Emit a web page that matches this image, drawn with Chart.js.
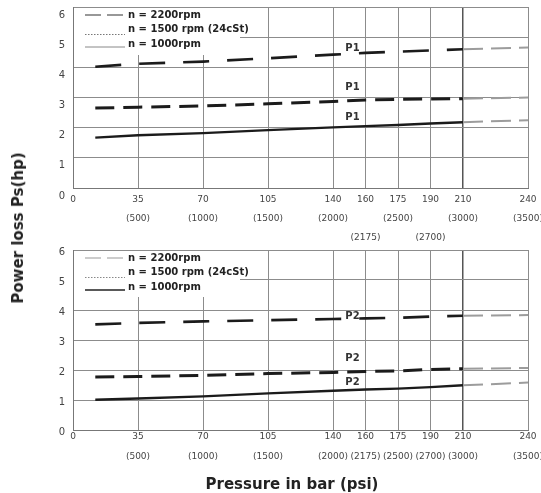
<!DOCTYPE html>
<html lang="en">
<head>
<meta charset="UTF-8">
<title>Power loss Ps</title>
<script src="https://cdn.jsdelivr.net/npm/chart.js"></script>
<style>
  body { margin: 0; background: #fff; }
  .sheet { position: relative; width: 541px; height: 493px; overflow: hidden; font-family: "DejaVu Sans", sans-serif; }
  .sheet canvas { position: absolute; left: 0; }
  #chartP1 { top: 0; }
  #chartP2 { top: 243px; }
  .ytitle, .xtitle { position: absolute; font-weight: bold; font-size: 15px; color: #222; white-space: nowrap; }
  .ytitle { left: 18px; top: 228px; transform: translate(-50%, -50%) rotate(-90deg); }
  .xtitle { left: 292px; top: 484px; transform: translate(-50%, -50%); }
</style>
</head>
<body>
<div class="sheet">
  <canvas id="chartP1" width="541" height="250"></canvas>
  <canvas id="chartP2" width="541" height="250"></canvas>
  <div class="ytitle">Power loss Ps(hp)</div>
  <div class="xtitle">Pressure in bar (psi)</div>
</div>
<script>
// axis labels
const barTicks = [0, 35, 70, 105, 140, 160, 175, 190, 210, 240];
const psiTicks = ['', '(500)', '(1000)', '(1500)', '(2000)', '(2175)', '(2500)', '(2700)', '(3000)', '(3500)'];
const powerTicks = [0, 1, 2, 3, 4, 5, 6];
const seriesNames = ['n = 2200rpm', 'n = 1500 rpm (24cSt)', 'n = 1000rpm'];

// pressure (bar) where the curves were read
const pressure = [12, 35, 70, 105, 140, 160, 175, 190, 210, 240];

// P1 power loss (hp)
const p1n2200 = [4.02, 4.12, 4.19, 4.30, 4.42, 4.48, 4.52, 4.56, 4.60, 4.66];
const p1n1500 = [2.65, 2.68, 2.72, 2.79, 2.87, 2.92, 2.94, 2.95, 2.96, 3.00];
const p1n1000 = [1.67, 1.75, 1.82, 1.92, 2.01, 2.05, 2.09, 2.14, 2.18, 2.25];

// P2 power loss (hp)
const p2n2200 = [3.52, 3.57, 3.62, 3.66, 3.70, 3.72, 3.74, 3.78, 3.81, 3.83];
const p2n1500 = [1.77, 1.78, 1.82, 1.88, 1.92, 1.95, 1.97, 2.02, 2.04, 2.07];
const p2n1000 = [1.01, 1.05, 1.12, 1.22, 1.31, 1.35, 1.38, 1.43, 1.49, 1.58];

// where the P1 / P2 tags sit (bar, hp)
const tagPressure = 152;
const p1TagAt = [4.64, 3.35, 2.35];
const p2TagAt = [3.80, 2.37, 1.57];

// the printed sheet spaces its grid unevenly: 140..210 is drawn at double scale
const gridSlots = [0, 2, 4, 6, 8, 9, 10, 11, 12, 14];
const lastSlot = gridSlots[gridSlots.length - 1];

function slotOf(v) {
  for (let i = 1; i < barTicks.length; i++) {
    if (v <= barTicks[i] || i === barTicks.length - 1) {
      const t = (v - barTicks[i - 1]) / (barTicks[i] - barTicks[i - 1]);
      return gridSlots[i - 1] + t * (gridSlots[i] - gridSlots[i - 1]);
    }
  }
}
function barOf(s) {
  for (let i = 1; i < gridSlots.length; i++) {
    if (s <= gridSlots[i] || i === gridSlots.length - 1) {
      const t = (s - gridSlots[i - 1]) / (gridSlots[i] - gridSlots[i - 1]);
      return barTicks[i - 1] + t * (barTicks[i] - barTicks[i - 1]);
    }
  }
}

const BaseLinear = Chart.LinearScale || Chart.registry.getScale('linear');
class SlotScale extends BaseLinear {
  getPixelForValue(value) {
    if (value === null || value === undefined) return NaN;
    return this.getPixelForDecimal(slotOf(value) / lastSlot);
  }
  getValueForPixel(pixel) {
    return barOf(this.getDecimalForPixel(pixel) * lastSlot);
  }
}
SlotScale.id = 'slot';
SlotScale.defaults = {};
Chart.register(SlotScale);

// line looks
const lineStyles = [
  { width: 2.6, dash: [26, 18] },
  { width: 3, dash: [19, 9] },
  { width: 2.4, dash: [] }
];
const extendFrom = 210; // grey continuation past 210 bar

// key box + P tags drawn into the plot
const sheetNotes = {
  id: 'sheetNotes',
  afterDatasetsDraw(chart, args, opts) {
    const { ctx, chartArea: a, scales } = chart;
    ctx.save();
    ctx.fillStyle = '#fff';
    ctx.fillRect(a.left + 1, a.top + 1, 166, opts.boxHeight);

    const textY = [8, 22.5, 37];
    const sampleY = [8, 27.5, 40];
    ctx.font = 'bold 10px "DejaVu Sans"';
    ctx.textBaseline = 'middle';
    ctx.textAlign = 'left';
    chart.data.datasets.forEach((ds, i) => {
      const k = opts.keys[i];
      ctx.strokeStyle = k.color;
      ctx.lineWidth = k.width;
      ctx.setLineDash(k.dash);
      ctx.beginPath();
      ctx.moveTo(a.left + 12, a.top + sampleY[i]);
      ctx.lineTo(a.left + 52, a.top + sampleY[i]);
      ctx.stroke();
      ctx.setLineDash([]);
      ctx.fillStyle = '#222';
      ctx.fillText(ds.label, a.left + 55, a.top + textY[i]);
    });

    ctx.textAlign = 'center';
    ctx.fillStyle = '#333';
    opts.tagAt.forEach(v => {
      ctx.fillText(opts.tag, scales.x.getPixelForValue(tagPressure), scales.y.getPixelForValue(v));
    });
    ctx.restore();
  }
};

function buildChart(id, cfg) {
  return new Chart(document.getElementById(id), {
    type: 'line',
    data: {
      datasets: cfg.series.map((vals, i) => ({
        label: seriesNames[i],
        data: pressure.map((p, j) => ({ x: p, y: vals[j] })),
        borderColor: '#1b1b1b',
        borderWidth: lineStyles[i].width,
        borderDash: lineStyles[i].dash,
        pointRadius: 0,
        tension: 0,
        fill: false,
        segment: {
          borderColor: c => c.p0.parsed.x >= extendFrom ? '#9c9c9c' : undefined,
          borderDash: c => c.p0.parsed.x >= extendFrom ? [20, 8] : undefined,
          borderWidth: c => c.p0.parsed.x >= extendFrom ? 2 : undefined
        }
      }))
    },
    options: {
      responsive: false,
      devicePixelRatio: 1,
      animation: false,
      events: [],
      layout: { padding: { top: 7, right: 13, bottom: 0, left: 0 } },
      scales: {
        x: {
          type: 'slot',
          min: 0,
          max: 240,
          afterBuildTicks: s => { s.ticks = barTicks.map(v => ({ value: v })); },
          afterFit: s => { s.height = cfg.axisHeight; s.paddingLeft = 0; s.paddingRight = 0; },
          grid: {
            drawTicks: false,
            color: c => (c.tick && c.tick.value === 210) ? '#555' : '#8c8c8c',
            lineWidth: c => (c.tick && c.tick.value === 210) ? 1.5 : 1
          },
          border: { color: '#777' },
          ticks: {
            autoSkip: false,
            maxRotation: 0,
            minRotation: 0,
            padding: cfg.tickPad,
            color: '#444',
            font: { family: 'DejaVu Sans', size: 9, lineHeight: cfg.tickLine },
            callback: (v, i) => cfg.labelFor(i)
          }
        },
        y: {
          min: 0,
          max: 6,
          afterBuildTicks: s => { s.ticks = powerTicks.map(v => ({ value: v })); },
          afterFit: s => { s.width = 73; s.paddingTop = 0; s.paddingBottom = 0; },
          grid: { drawTicks: false, color: '#8c8c8c' },
          border: { color: '#777' },
          ticks: {
            padding: 8,
            labelOffset: cfg.yLabelOffset,
            color: '#444',
            font: { family: 'DejaVu Sans', size: 10 }
          }
        }
      },
      plugins: {
        legend: { display: false },
        tooltip: { enabled: false },
        sheetNotes: { keys: cfg.keys, boxHeight: cfg.boxHeight, tag: cfg.tag, tagAt: cfg.tagAt }
      }
    },
    plugins: [sheetNotes]
  });
}

const staggered = [160, 190]; // psi pushed to a third row on the upper sheet

buildChart('chartP1', {
  series: [p1n2200, p1n1500, p1n1000],
  axisHeight: 62,
  tickPad: 2.5,
  tickLine: '19px',
  yLabelOffset: 8,
  boxHeight: 47,
  tag: 'P1',
  tagAt: p1TagAt,
  labelFor: i => staggered.includes(barTicks[i])
    ? [String(barTicks[i]), '', psiTicks[i]]
    : [String(barTicks[i]), psiTicks[i]],
  keys: [
    { color: '#333', width: 1.2, dash: [16, 6] },
    { color: '#777', width: 1, dash: [1.5, 1.5] },
    { color: '#888', width: 1, dash: [] }
  ]
});

buildChart('chartP2', {
  series: [p2n2200, p2n1500, p2n1000],
  axisHeight: 63,
  tickPad: -3,
  tickLine: '20px',
  yLabelOffset: 2,
  boxHeight: 46,
  tag: 'P2',
  tagAt: p2TagAt,
  labelFor: i => [String(barTicks[i]), psiTicks[i]],
  keys: [
    { color: '#999', width: 1, dash: [16, 6] },
    { color: '#888', width: 1, dash: [1.5, 1.5] },
    { color: '#222', width: 1.5, dash: [] }
  ]
});
</script>
</body>
</html>
